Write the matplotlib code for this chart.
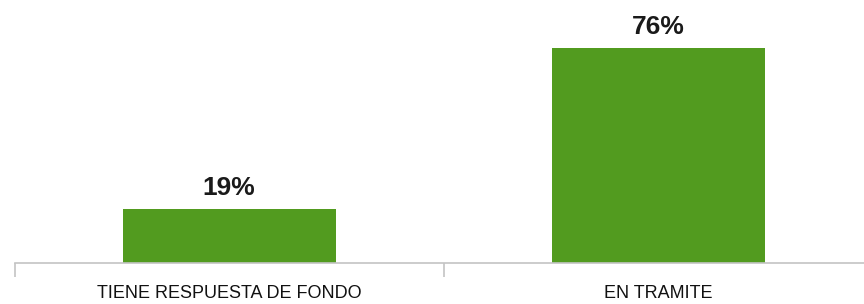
import matplotlib.pyplot as plt

categories = ["TIENE RESPUESTA DE FONDO", "EN TRAMITE"]
values = [19, 76]
value_labels = ["19%", "76%"]

plt.rcParams["font.family"] = ["Liberation Sans", "DejaVu Sans"]

fig = plt.figure(figsize=(8.64, 3.04), dpi=100)
# axes spans beyond the right edge, like the original export
ax = fig.add_axes([14.5 / 864, (304 - 263) / 304, 859 / 864, 260 / 304])

x = range(len(categories))
bars = ax.bar(x, values, width=0.496, color="#529b1f", zorder=2)

for b, lab in zip(bars, value_labels):
    ax.text(b.get_x() + b.get_width() / 2, b.get_height() + 3.2, lab,
            ha="center", va="bottom", fontsize=19, fontweight="bold", color="#1a1a1a")

ax.set_xlim(-0.5, 1.5)
ax.set_ylim(0, 92)
ax.set_yticks([])
ax.set_xticks([-0.5, 0.5, 1.5])
ax.set_xticklabels([])
ax.set_xticks([0, 1], minor=True)
ax.set_xticklabels(categories, minor=True, fontsize=13, color="#111111")
ax.tick_params(axis="x", which="minor", length=0, pad=16)
ax.tick_params(axis="x", which="major", length=10, width=1.2, color="#c4c4c4", direction="out")

for s in ["top", "right", "left"]:
    ax.spines[s].set_visible(False)
ax.spines["bottom"].set_color("#c4c4c4")
ax.spines["bottom"].set_linewidth(1.2)

fig.savefig("out.png", dpi=100)
